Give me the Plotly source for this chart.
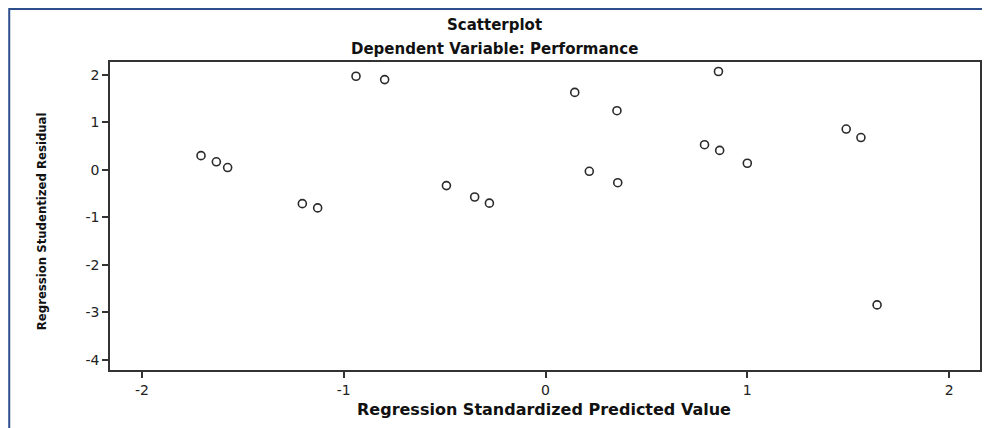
import plotly.graph_objects as go

# Regression Standardized Predicted Value
pred = [-1.707, -1.631, -1.575, -1.205, -1.129, -0.939, -0.797, -0.491, -0.351, -0.278,
        0.145, 0.217, 0.354, 0.358, 0.788, 0.857, 0.863, 1.000, 1.490, 1.563, 1.643]
# Regression Studentized Residual
resid = [0.30, 0.17, 0.05, -0.71, -0.80, 1.97, 1.90, -0.33, -0.57, -0.70,
         1.63, -0.03, 1.245, -0.27, 0.53, 2.07, 0.41, 0.14, 0.86, 0.68, -2.84]

x_ticks = [-2, -1, 0, 1, 2]
y_ticks = [2, 1, 0, -1, -2, -3, -4]

title_main = "Scatterplot"
title_sub = "Dependent Variable: Performance"
x_title = "Regression Standardized Predicted Value"
y_title = "Regression Studentized Residual"

# page body has an 8px margin, so the figure starts at screen (8, 8)
OFF = 8
W, H = 982, 420
# plot area in screen pixels: x 110..982, y 62..370
L, R, T, B = 110 - OFF, W - (982 - OFF), 62 - OFF, H - (370 - OFF)
pw, ph = W - L - R, H - T - B

def px(xs):
    return (xs - OFF - L) / pw

def py(ys):
    return (H - B - (ys - OFF)) / ph

wide = "DejaVu Sans, Liberation Sans, Arial, sans-serif"
title_font = dict(family=wide, size=15, color="#111", weight="bold")

fig = go.Figure(go.Scatter(
    x=pred, y=resid, mode="markers",
    marker=dict(symbol="circle-open", size=8, color="#2a2a2a", line=dict(width=1.6, color="#2a2a2a")),
    hoverinfo="x+y", showlegend=False,
))

axis_common = dict(
    showline=True, mirror=True, linecolor="#333", linewidth=1.5,
    ticks="outside", ticklen=6, tickwidth=2, tickcolor="#333",
    showgrid=False, zeroline=False,
    tickfont=dict(family=wide, size=14, color="#222"),
)

fig.update_xaxes(range=[-2.158, 2.153], tickvals=x_ticks, ticktext=[str(v) for v in x_ticks], **axis_common)
fig.update_yaxes(range=[-4.21, 2.27], tickvals=y_ticks, ticktext=[str(v) for v in y_ticks], **axis_common)

fig.update_layout(
    width=W, height=H,
    margin=dict(l=L, r=R, t=T, b=B, pad=0),
    paper_bgcolor="white", plot_bgcolor="white",
    shapes=[dict(type="rect", xref="paper", yref="paper",
                 x0=px(9), x1=px(1010), y0=py(450), y1=py(9),
                 line=dict(color="#2d4f8e", width=2), fillcolor="rgba(0,0,0,0)", layer="below")],
    annotations=[
        dict(text=title_main, x=px(495), y=py(25), xref="paper", yref="paper", showarrow=False,
             xanchor="center", yanchor="middle", font=title_font),
        dict(text=title_sub, x=px(495), y=py(49), xref="paper", yref="paper", showarrow=False,
             xanchor="center", yanchor="middle", font=title_font),
        dict(text=x_title, x=px(545), y=py(409), xref="paper", yref="paper", showarrow=False,
             xanchor="center", yanchor="middle", font=dict(family=wide, size=16, color="#111", weight="bold")),
        dict(text=y_title, x=px(42), y=py(221), xref="paper", yref="paper", showarrow=False,
             xanchor="center", yanchor="middle", textangle=-90,
             font=dict(family="Liberation Sans Narrow, Arial Narrow, DejaVu Sans Condensed, sans-serif",
                       size=13, color="#111", weight="bold")),
    ],
)

fig.write_html("out.html")
